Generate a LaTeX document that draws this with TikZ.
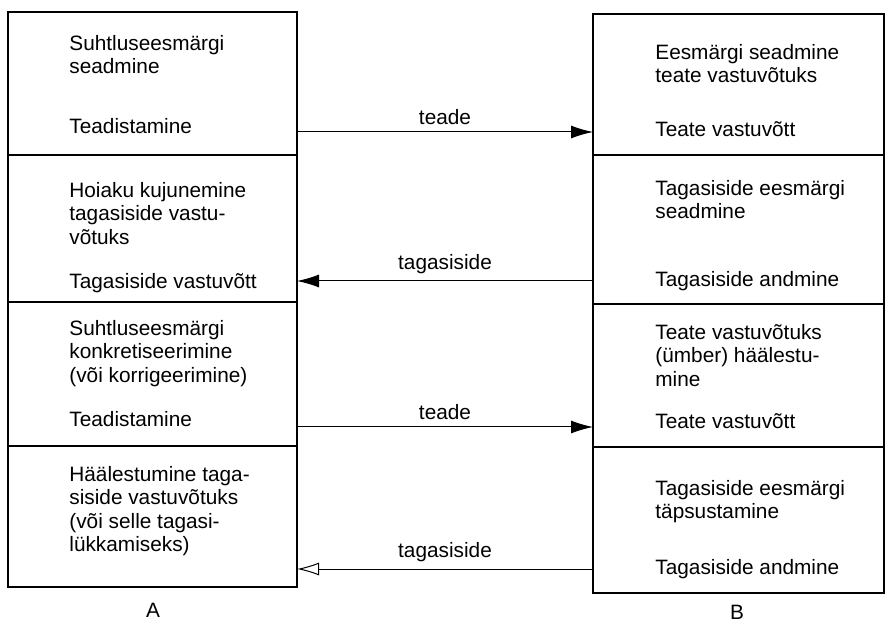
\documentclass[tikz,border=0pt]{standalone}
\usepackage{fontspec}
\setmainfont{Liberation Sans}
\usetikzlibrary{arrows.meta,fit}

\begin{document}
\begin{tikzpicture}[x=0.5pt,y=-0.5pt,
	cell/.style={draw,line width=1.2pt,inner sep=0pt,outer sep=0pt},
	txt/.style={anchor=north west,align=left,inner sep=0pt,font=\fontsize{10.4}{11.7}\selectfont},
	msg/.style={line width=0.5pt,-{Latex[length=11pt,width=6.5pt]}},
	back/.style={line width=0.5pt,-{Latex[open,length=11pt,width=6.5pt]}},
	lbl/.style={font=\fontsize{10.4}{11.7}\selectfont}]
\useasboundingbox (0,0) rectangle (888,624);
% side A
\node[cell,fit={(8,12) (297,155)}] (l1) {};
\node[cell,fit={(8,155) (297,302)}] (l2) {};
\node[cell,fit={(8,302) (297,446)}] (l3) {};
\node[cell,fit={(8,446) (297,587)}] (l4) {};
% side B
\node[cell,fit={(593,14) (884,155)}] (r1) {};
\node[cell,fit={(593,155) (884,304)}] (r2) {};
\node[cell,fit={(593,304) (884,447)}] (r3) {};
\node[cell,fit={(593,447) (884,593)}] (r4) {};
% texts
\node[txt] (l1t) at (69,35) {Suhtluseesmärgi\\seadmine};
\node[txt] (l1b) at (69,118) {Teadistamine};
\node[txt] (l2t) at (69,182) {Hoiaku kujunemine\\tagasiside vastu-\\võtuks};
\node[txt] (l2b) at (69,273) {Tagasiside vastuvõtt};
\node[txt] (l3t) at (69,320) {Suhtluseesmärgi\\konkretiseerimine\\(või korrigeerimine)};
\node[txt] (l3b) at (69,411) {Teadistamine};
\node[txt] (l4t) at (69,466) {Häälestumine taga-\\siside vastuvõtuks\\(või selle tagasi-\\lükkamiseks)};
\node[txt] (r1t) at (655,44) {Eesmärgi seadmine\\teate vastuvõtuks};
\node[txt] (r1b) at (655,121) {Teate vastuvõtt};
\node[txt] (r2t) at (655,180) {Tagasiside eesmärgi\\seadmine};
\node[txt] (r2b) at (655,271) {Tagasiside andmine};
\node[txt] (r3t) at (655,324) {Teate vastuvõtuks\\(ümber) häälestu-\\mine};
\node[txt] (r3b) at (655,413) {Teate vastuvõtt};
\node[txt] (r4t) at (655,480) {Tagasiside eesmärgi\\täpsustamine};
\node[txt] (r4b) at (655,559) {Tagasiside andmine};
\node[lbl] (a) at (153,610) {A};
\node[lbl] (b) at (737,612) {B};
% messages
\coordinate (y1) at (0,132);
\coordinate (y2) at (0,281);
\coordinate (y3) at (0,427);
\coordinate (y4) at (0,569);
\draw[msg] (l1.east |- y1) -- (r1.west |- y1) node[lbl,midway,above] {teade};
\draw[msg] (r2.west |- y2) -- (l2.east |- y2) node[lbl,midway,above] {tagasiside};
\draw[msg] (l3.east |- y3) -- (r3.west |- y3) node[lbl,midway,above] {teade};
\draw[back] (r4.west |- y4) -- (l4.east |- y4) node[lbl,midway,above] {tagasiside};
\end{tikzpicture}
\end{document}
